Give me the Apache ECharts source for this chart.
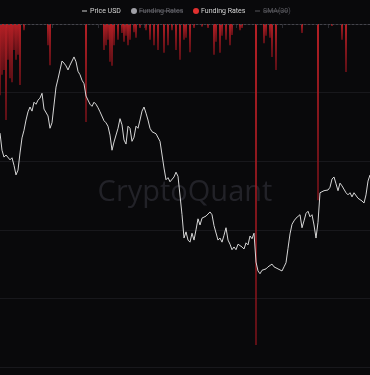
<!DOCTYPE html>
<html>
<head>
<meta charset="utf-8">
<script src="https://cdn.jsdelivr.net/npm/echarts@6/dist/echarts.min.js"></script>
<style>
html,body{margin:0;padding:0;background:#09090b;}
#c{width:370px;height:375px;}
</style>
</head>
<body>
<div id="c"></div>
<script>
// Price USD (one value per day)
var priceUSD = [
44100,41600,40600,40900,40800,40200,40500,39400,38000,38700,
41200,43400,44500,46000,47200,47900,47300,48600,48300,48900,
49200,49900,47600,47800,46600,44800,45600,48200,50800,52000,
53300,54600,54300,53900,53300,54000,54200,55200,54500,53100,
52600,51800,51300,49500,49400,48300,48000,48600,48300,47800,
47200,47300,45900,45600,45100,43800,41600,42800,42700,44800,
46200,45300,43100,42500,45100,44800,42900,43500,45100,44800,
46000,47300,47900,47000,46000,44800,44300,44500,44000,43800,
42900,43100,39000,37300,37600,37000,37100,37700,38400,37800,
38000,32200,28800,29700,28500,28200,29500,28500,30000,31600,
30700,31700,31900,32000,32200,32600,32200,30600,30600,28500,
28800,28200,29200,30300,28500,27900,27100,27500,27100,27900,
27800,27500,27200,28100,27800,29100,28700,29500,25300,24000,
23600,24100,24000,24300,24600,24600,25000,24600,24400,24300,
24100,24000,24600,25200,27300,29400,30800,31300,31700,31600,
32200,30300,31300,32400,32700,31900,32200,30700,28800,31100,
35400,35500,35700,35900,35800,36200,37400,37700,36700,35700,
36800,36400,36400,35400,35100,35400,34800,35400,35400,34600,
34800,34200,33900,35100,37100,38000
];
// Funding Rates (negative readings only, shown as red bars)
var fundingRates = [
-0.0104,-0.0074,-0.0067,-0.0140,-0.0052,-0.0079,-0.0085,-0.0038,-0.0052,-0.0045,
-0.0089,0,-0.0009,0,0,0,0,0,0,0,
0,0,0,0,-0.0031,-0.0060,0,0,0,0,
0,0,0,0,0,0,0,0,0,0,
0,0,0,-0.0143,0,0,0,0,0,0,
0,0,-0.0038,-0.0031,-0.0023,-0.0055,-0.0061,-0.0031,0,-0.0023,
0,-0.0013,-0.0026,-0.0017,-0.0031,-0.0023,0,-0.0012,-0.0020,0,
-0.0006,0,0,-0.0009,0,-0.0023,0,-0.0031,0,-0.0038,
0,0,-0.0042,0,-0.0031,0,-0.0009,0,-0.0038,0,
-0.0052,0,-0.0023,-0.0020,0,-0.0041,0,-0.0006,0,0,
0,-0.0004,0,0,-0.0006,0,0,-0.0045,-0.0026,0,
-0.0042,-0.0017,0,-0.0023,0,-0.0031,-0.0016,0,0,0,
-0.0009,-0.0006,0,0,0,0,0,0,-0.0468,0,
0,0,-0.0028,-0.0017,0,-0.0020,-0.0048,0,-0.0067,0,
0,0,0,0,0,0,0,0,0,0,
0,-0.0013,0,0,0,0,0,0,0,-0.0257,
0,0,0,0,0,0,-0.0003,0,0,0,
0,-0.0023,0,-0.0070,0,0,0,0,0,0,
0,0,0,0,0,0
];
var legendLabels = ['Price USD', 'Funding Rates', 'Funding Rates', 'SMA(30)'];
var watermarkText = 'CryptoQuant';

var categories = [];
var d0 = new Date(Date.UTC(2021, 10, 1));
for (var i = 0; i < priceUSD.length; i++) {
  var d = new Date(d0.getTime() + i * 86400000);
  categories.push(d.toISOString().slice(0, 10));
}

var chart = echarts.init(document.getElementById('c'), null, {renderer: 'canvas'});
var FONT = 'Roboto, "Noto Sans", sans-serif';
chart.setOption({
  backgroundColor: '#09090b',
  animation: false,
  grid: {left: 0, right: 0, top: 24, bottom: 8, containLabel: false},
  xAxis: {
    type: 'category',
    data: categories,
    boundaryGap: false,
    axisLine: {show: true, lineStyle: {color: '#26262b', width: 1}},
    axisTick: {show: true, length: 4, lineStyle: {color: '#2c2c32'},
      interval: function (idx) { return (idx - 3) % 23 === 0; }},
    axisLabel: {show: false},
    splitLine: {show: false}
  },
  yAxis: [
    {
      type: 'value', min: 10000, max: 60000, interval: 10000,
      axisLine: {show: false}, axisTick: {show: false}, axisLabel: {show: false},
      splitLine: {show: true, lineStyle: {color: '#18181c', width: 1}}
    },
    {
      type: 'value', min: -0.05, max: 0,
      axisLine: {show: false}, axisTick: {show: false}, axisLabel: {show: false},
      splitLine: {show: false}
    }
  ],
  series: [
    {
      name: 'Funding Rates',
      type: 'bar',
      yAxisIndex: 1,
      data: fundingRates,
      barWidth: 2,
      itemStyle: {
        color: new echarts.graphic.LinearGradient(0, 0, 0, 1, [
          {offset: 0, color: 'rgba(200,34,40,0.9)'},
          {offset: 1, color: 'rgba(130,18,26,0.7)'}
        ])
      },
      markLine: {
        silent: true, symbol: 'none', label: {show: false},
        lineStyle: {color: '#44444b', type: [2, 2], width: 1},
        data: [{yAxis: 0}]
      },
      z: 2
    },
    {
      name: 'Price USD',
      type: 'line',
      yAxisIndex: 0,
      data: priceUSD,
      symbol: 'none',
      lineStyle: {color: '#d6d6d6', width: 1},
      z: 3
    }
  ],
  graphic: [
    {type: 'text', left: 'center', top: 178, z: 0,
      style: {text: watermarkText, fill: '#222228', font: '500 29px "Open Sans", "Noto Sans", sans-serif'}},
    {type: 'line', shape: {x1: 82, y1: 11, x2: 87, y2: 11}, style: {stroke: '#cfcfcf', lineWidth: 1}},
    {type: 'text', x: 90, y: 11, style: {text: legendLabels[0], fill: '#d4d4d4', font: '7px ' + FONT, verticalAlign: 'middle'}},
    {type: 'circle', shape: {cx: 134, cy: 11, r: 3}, style: {fill: '#a0a0a6'}},
    {type: 'text', x: 139, y: 11, style: {text: legendLabels[1], fill: '#66666c', font: '7px ' + FONT, verticalAlign: 'middle'}},
    {type: 'line', shape: {x1: 139, y1: 11, x2: 183, y2: 11}, style: {stroke: '#66666c', lineWidth: 0.8}},
    {type: 'circle', shape: {cx: 196, cy: 11, r: 3}, style: {fill: '#e0302f'}},
    {type: 'text', x: 201, y: 11, style: {text: legendLabels[2], fill: '#d4d4d4', font: '7px ' + FONT, verticalAlign: 'middle'}},
    {type: 'line', shape: {x1: 255, y1: 11, x2: 260, y2: 11}, style: {stroke: '#55555b', lineWidth: 1}},
    {type: 'text', x: 263, y: 11, style: {text: legendLabels[3], fill: '#5a5a60', font: '7px ' + FONT, verticalAlign: 'middle'}},
    {type: 'line', shape: {x1: 263, y1: 11, x2: 288, y2: 11}, style: {stroke: '#5a5a60', lineWidth: 0.8}}
  ]
});
</script>
</body>
</html>
